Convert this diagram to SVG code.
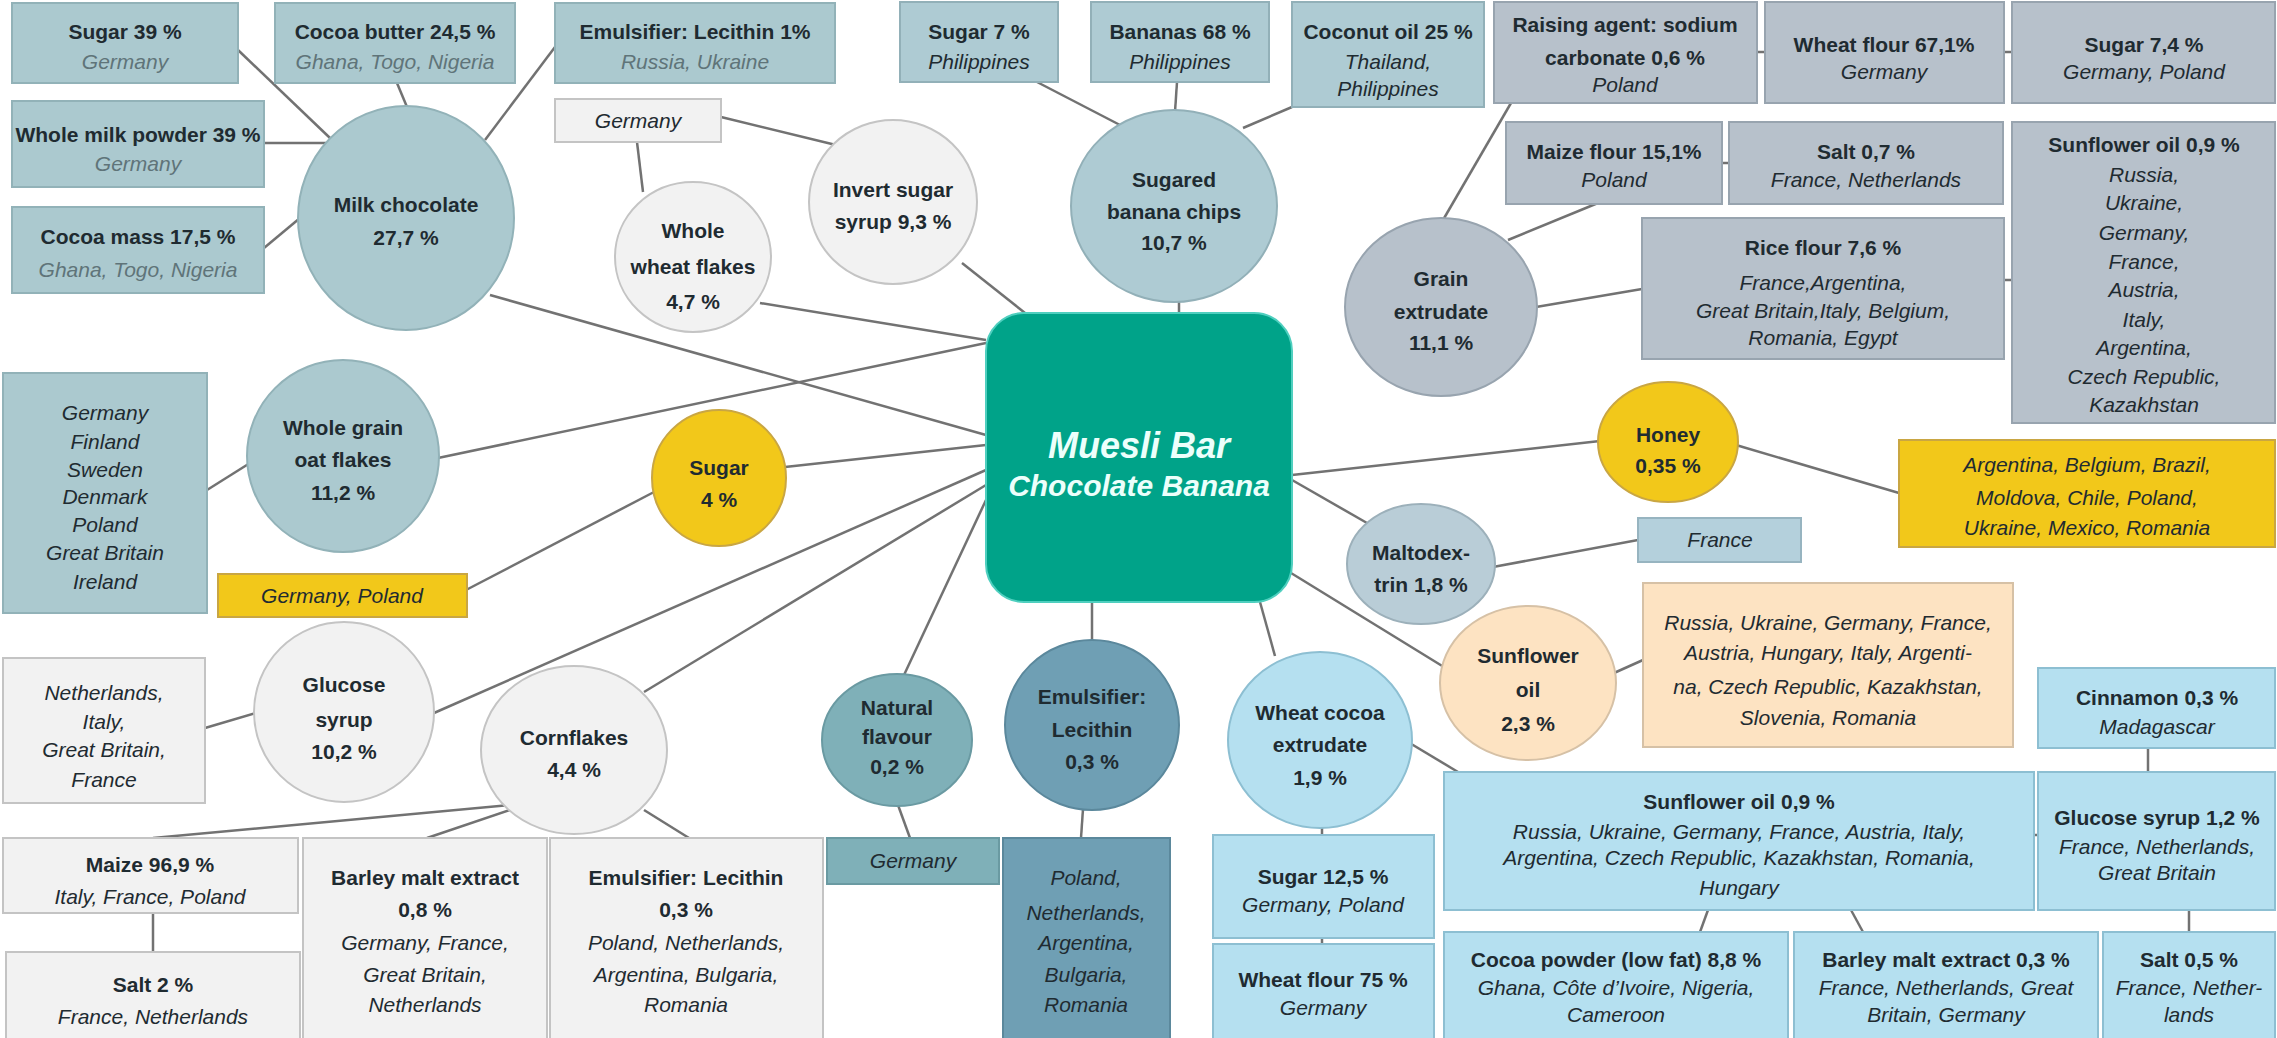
<svg xmlns="http://www.w3.org/2000/svg" width="2277" height="1038" viewBox="0 0 2277 1038">
<style>
.ln{stroke:#727272;stroke-width:2.5;fill:none}
text{font-family:"Liberation Sans",Arial,sans-serif;font-size:21px;text-anchor:middle;fill:#1f2b31}
.b{font-weight:bold}
.i{font-style:italic}
.gi{font-style:italic;fill:#5f7479}
.tg{fill:#abc9cf;stroke:#92b2b8;stroke-width:2}
.bc{fill:#aecbd3;stroke:#92b0b8;stroke-width:2}
.lg{fill:#f2f2f2;stroke:#c4c4c4;stroke-width:2}
.bg{fill:#b7c1cb;stroke:#98a4af;stroke-width:2}
.ye{fill:#f2c81a;stroke:#c9a643;stroke-width:2}
.pe{fill:#fde3c2;stroke:#d6c1a6;stroke-width:2}
.lb{fill:#b5e0f0;stroke:#8dbfd2;stroke-width:2}
.nf{fill:#7fb0b8;stroke:#6a9aa2;stroke-width:2}
.em{fill:#6f9fb4;stroke:#5b889c;stroke-width:2}
.ml{fill:#b9cdd7;stroke:#9cb0ba;stroke-width:2}
.fr{fill:#b4d0dc;stroke:#97b4c0;stroke-width:2}
.ctr{fill:#00a389;stroke:#4fcfbf;stroke-width:2}
.ct{fill:#ecfffb;font-style:italic;font-weight:bold}
</style>

<g id="connectors">
<line class="ln" x1="238" y1="50" x2="330" y2="138"/>
<line class="ln" x1="397" y1="83" x2="407" y2="107"/>
<line class="ln" x1="555" y1="47" x2="485" y2="140"/>
<line class="ln" x1="264" y1="143" x2="326" y2="143"/>
<line class="ln" x1="264" y1="248" x2="300" y2="218"/>
<line class="ln" x1="490" y1="295" x2="986" y2="435"/>
<line class="ln" x1="721" y1="117" x2="836" y2="145"/>
<line class="ln" x1="637" y1="142" x2="643" y2="192"/>
<line class="ln" x1="760" y1="303" x2="986" y2="340"/>
<line class="ln" x1="962" y1="263" x2="1025" y2="313"/>
<line class="ln" x1="1037" y1="82" x2="1120" y2="125"/>
<line class="ln" x1="1177" y1="82" x2="1175" y2="112"/>
<line class="ln" x1="1292" y1="107" x2="1243" y2="128"/>
<line class="ln" x1="1179" y1="300" x2="1179" y2="313"/>
<line class="ln" x1="1511" y1="103" x2="1443" y2="220"/>
<line class="ln" x1="1598" y1="203" x2="1508" y2="240"/>
<line class="ln" x1="1642" y1="289" x2="1536" y2="307"/>
<line class="ln" x1="1757" y1="52" x2="1765" y2="52"/>
<line class="ln" x1="2004" y1="52" x2="2012" y2="52"/>
<line class="ln" x1="1722" y1="163" x2="1729" y2="163"/>
<line class="ln" x1="2004" y1="280" x2="2012" y2="280"/>
<line class="ln" x1="1292" y1="475" x2="1600" y2="441"/>
<line class="ln" x1="1736" y1="445" x2="1899" y2="493"/>
<line class="ln" x1="1292" y1="480" x2="1367" y2="523"/>
<line class="ln" x1="1493" y1="567" x2="1638" y2="540"/>
<line class="ln" x1="1291" y1="573" x2="1452" y2="672"/>
<line class="ln" x1="1614" y1="673" x2="1643" y2="660"/>
<line class="ln" x1="1260" y1="602" x2="1275" y2="656"/>
<line class="ln" x1="1322" y1="826" x2="1322" y2="835"/>
<line class="ln" x1="1322" y1="938" x2="1322" y2="944"/>
<line class="ln" x1="1408" y1="742" x2="1458" y2="772"/>
<line class="ln" x1="1708" y1="910" x2="1700" y2="932"/>
<line class="ln" x1="1851" y1="910" x2="1863" y2="932"/>
<line class="ln" x1="2148" y1="748" x2="2148" y2="772"/>
<line class="ln" x1="2189" y1="910" x2="2189" y2="932"/>
<line class="ln" x1="2034" y1="835" x2="2038" y2="835"/>
<line class="ln" x1="1092" y1="602" x2="1092" y2="641"/>
<line class="ln" x1="1083" y1="809" x2="1081" y2="838"/>
<line class="ln" x1="986" y1="500" x2="904" y2="675"/>
<line class="ln" x1="898" y1="805" x2="910" y2="838"/>
<line class="ln" x1="986" y1="485" x2="644" y2="692"/>
<line class="ln" x1="510" y1="805" x2="153" y2="838"/>
<line class="ln" x1="510" y1="810" x2="427" y2="838"/>
<line class="ln" x1="644" y1="810" x2="689" y2="838"/>
<line class="ln" x1="153" y1="913" x2="153" y2="952"/>
<line class="ln" x1="256" y1="713" x2="205" y2="728"/>
<line class="ln" x1="434" y1="713" x2="986" y2="470"/>
<line class="ln" x1="207" y1="490" x2="250" y2="463"/>
<line class="ln" x1="438" y1="458" x2="986" y2="343"/>
<line class="ln" x1="654" y1="492" x2="466" y2="590"/>
<line class="ln" x1="785" y1="467" x2="986" y2="445"/>
</g>

<g id="milk-chocolate-sugar"><rect class="tg" x="12" y="3" width="226" height="80"/><text class="b" x="125" y="39">Sugar 39 %</text><text class="gi" x="125" y="69">Germany</text></g>
<g id="cocoa-butter"><rect class="tg" x="275" y="3" width="240" height="80"/><text class="b" x="395" y="39">Cocoa butter 24,5 %</text><text class="gi" x="395" y="69">Ghana, Togo, Nigeria</text></g>
<g id="emulsifier-1"><rect class="tg" x="555" y="3" width="280" height="80"/><text class="b" x="695" y="39">Emulsifier: Lecithin 1%</text><text class="gi" x="695" y="69">Russia, Ukraine</text></g>
<g id="whole-milk-powder"><rect class="tg" x="12" y="101" width="252" height="86"/><text class="b" x="138" y="142">Whole milk powder 39 %</text><text class="gi" x="138" y="171">Germany</text></g>
<g id="cocoa-mass"><rect class="tg" x="12" y="207" width="252" height="86"/><text class="b" x="138" y="244">Cocoa mass 17,5 %</text><text class="gi" x="138" y="277">Ghana, Togo, Nigeria</text></g>
<g id="milk-chocolate"><ellipse class="tg" cx="406" cy="218" rx="108" ry="112"/><text class="b" x="406" y="212">Milk chocolate</text><text class="b" x="406" y="245">27,7 %</text></g>

<g id="germany-wheat"><rect class="lg" x="555" y="99" width="166" height="43"/><text class="i" x="638" y="128">Germany</text></g>
<g id="whole-wheat-flakes"><ellipse class="lg" cx="693" cy="257" rx="78" ry="75"/><text class="b" x="693" y="238">Whole</text><text class="b" x="693" y="274">wheat flakes</text><text class="b" x="693" y="309">4,7 %</text></g>
<g id="invert-sugar"><ellipse class="lg" cx="893" cy="202" rx="84" ry="82"/><text class="b" x="893" y="197">Invert sugar</text><text class="b" x="893" y="229">syrup 9,3 %</text></g>

<g id="sugar-7"><rect class="bc" x="900" y="2" width="158" height="80"/><text class="b" x="979" y="39">Sugar 7 %</text><text class="i" x="979" y="69">Philippines</text></g>
<g id="bananas"><rect class="bc" x="1091" y="2" width="178" height="80"/><text class="b" x="1180" y="39">Bananas 68 %</text><text class="i" x="1180" y="69">Philippines</text></g>
<g id="coconut-oil"><rect class="bc" x="1292" y="2" width="192" height="105"/><text class="b" x="1388" y="39">Coconut oil 25 %</text><text class="i" x="1388" y="69">Thailand,</text><text class="i" x="1388" y="96">Philippines</text></g>
<g id="banana-chips"><ellipse class="bc" cx="1174" cy="206" rx="103" ry="96"/><text class="b" x="1174" y="187">Sugared</text><text class="b" x="1174" y="219">banana chips</text><text class="b" x="1174" y="250">10,7 %</text></g>

<g id="raising-agent"><rect class="bg" x="1494" y="2" width="263" height="101"/><text class="b" x="1625" y="32">Raising agent: sodium</text><text class="b" x="1625" y="65">carbonate 0,6 %</text><text class="i" x="1625" y="92">Poland</text></g>
<g id="wheat-flour-67"><rect class="bg" x="1765" y="2" width="239" height="101"/><text class="b" x="1884" y="52">Wheat flour 67,1%</text><text class="i" x="1884" y="79">Germany</text></g>
<g id="sugar-74"><rect class="bg" x="2012" y="2" width="263" height="101"/><text class="b" x="2144" y="52">Sugar 7,4 %</text><text class="i" x="2144" y="79">Germany, Poland</text></g>
<g id="maize-flour"><rect class="bg" x="1506" y="122" width="216" height="82"/><text class="b" x="1614" y="159">Maize flour 15,1%</text><text class="i" x="1614" y="187">Poland</text></g>
<g id="salt-07"><rect class="bg" x="1729" y="122" width="274" height="82"/><text class="b" x="1866" y="159">Salt 0,7 %</text><text class="i" x="1866" y="187">France, Netherlands</text></g>
<g id="rice-flour"><rect class="bg" x="1642" y="218" width="362" height="141"/><text class="b" x="1823" y="255">Rice flour 7,6 %</text><text class="i" x="1823" y="290">France,Argentina,</text><text class="i" x="1823" y="318">Great Britain,Italy, Belgium,</text><text class="i" x="1823" y="345">Romania, Egypt</text></g>
<g id="sunflower-grey"><rect class="bg" x="2012" y="122" width="263" height="301"/><text class="b" x="2144" y="152">Sunflower oil 0,9 %</text><text class="i" x="2144" y="182">Russia,</text><text class="i" x="2144" y="210">Ukraine,</text><text class="i" x="2144" y="240">Germany,</text><text class="i" x="2144" y="269">France,</text><text class="i" x="2144" y="297">Austria,</text><text class="i" x="2144" y="327">Italy,</text><text class="i" x="2144" y="355">Argentina,</text><text class="i" x="2144" y="384">Czech Republic,</text><text class="i" x="2144" y="412">Kazakhstan</text></g>
<g id="grain-extrudate"><ellipse class="bg" cx="1441" cy="307" rx="96" ry="89"/><text class="b" x="1441" y="286">Grain</text><text class="b" x="1441" y="319">extrudate</text><text class="b" x="1441" y="350">11,1 %</text></g>

<g id="honey"><ellipse class="ye" cx="1668" cy="442" rx="70" ry="60"/><text class="b" x="1668" y="442">Honey</text><text class="b" x="1668" y="473">0,35 %</text></g>
<g id="honey-countries"><rect class="ye" x="1899" y="440" width="376" height="107"/><text class="i" x="2087" y="472">Argentina, Belgium, Brazil,</text><text class="i" x="2087" y="505">Moldova, Chile, Poland,</text><text class="i" x="2087" y="535">Ukraine, Mexico, Romania</text></g>

<g id="maltodextrin"><ellipse class="ml" cx="1421" cy="564" rx="74" ry="60"/><text class="b" x="1421" y="560">Maltodex-</text><text class="b" x="1421" y="592">trin 1,8 %</text></g>
<g id="france"><rect class="fr" x="1638" y="518" width="163" height="44"/><text class="i" x="1720" y="547">France</text></g>

<g id="sunflower-oil"><ellipse class="pe" cx="1528" cy="683" rx="88" ry="77"/><text class="b" x="1528" y="663">Sunflower</text><text class="b" x="1528" y="697">oil</text><text class="b" x="1528" y="731">2,3 %</text></g>
<g id="sunflower-countries"><rect class="pe" x="1643" y="583" width="370" height="164"/><text class="i" x="1828" y="630">Russia, Ukraine, Germany, France,</text><text class="i" x="1828" y="660">Austria, Hungary, Italy, Argenti-</text><text class="i" x="1828" y="694">na, Czech Republic, Kazakhstan,</text><text class="i" x="1828" y="725">Slovenia, Romania</text></g>

<g id="wheat-cocoa"><ellipse class="lb" cx="1320" cy="740" rx="92" ry="88"/><text class="b" x="1320" y="720">Wheat cocoa</text><text class="b" x="1320" y="752">extrudate</text><text class="b" x="1320" y="785">1,9 %</text></g>
<g id="sugar-125"><rect class="lb" x="1213" y="835" width="221" height="103"/><text class="b" x="1323" y="884">Sugar 12,5 %</text><text class="i" x="1323" y="912">Germany, Poland</text></g>
<g id="wheat-flour-75"><rect class="lb" x="1213" y="944" width="221" height="96"/><text class="b" x="1323" y="987">Wheat flour 75 %</text><text class="i" x="1323" y="1015">Germany</text></g>
<g id="sunflower-blue"><rect class="lb" x="1444" y="772" width="590" height="138"/><text class="b" x="1739" y="809">Sunflower oil 0,9 %</text><text class="i" x="1739" y="839">Russia, Ukraine, Germany, France, Austria, Italy,</text><text class="i" x="1739" y="865">Argentina, Czech Republic, Kazakhstan, Romania,</text><text class="i" x="1739" y="895">Hungary</text></g>
<g id="cinnamon"><rect class="lb" x="2038" y="668" width="237" height="80"/><text class="b" x="2157" y="705">Cinnamon 0,3 %</text><text class="i" x="2157" y="734">Madagascar</text></g>
<g id="glucose-12"><rect class="lb" x="2038" y="772" width="237" height="138"/><text class="b" x="2157" y="825">Glucose syrup 1,2 %</text><text class="i" x="2157" y="854">France, Netherlands,</text><text class="i" x="2157" y="880">Great Britain</text></g>
<g id="cocoa-powder"><rect class="lb" x="1444" y="932" width="344" height="108"/><text class="b" x="1616" y="967">Cocoa powder (low fat) 8,8 %</text><text class="i" x="1616" y="995">Ghana, Côte d’Ivoire, Nigeria,</text><text class="i" x="1616" y="1022">Cameroon</text></g>
<g id="barley-03"><rect class="lb" x="1794" y="932" width="304" height="108"/><text class="b" x="1946" y="967">Barley malt extract 0,3 %</text><text class="i" x="1946" y="995">France, Netherlands, Great</text><text class="i" x="1946" y="1022">Britain, Germany</text></g>
<g id="salt-05"><rect class="lb" x="2103" y="932" width="172" height="108"/><text class="b" x="2189" y="967">Salt 0,5 %</text><text class="i" x="2189" y="995">France, Nether-</text><text class="i" x="2189" y="1022">lands</text></g>

<g id="emulsifier-03"><ellipse class="em" cx="1092" cy="725" rx="87" ry="85"/><text class="b" x="1092" y="704">Emulsifier:</text><text class="b" x="1092" y="737">Lecithin</text><text class="b" x="1092" y="769">0,3 %</text></g>
<g id="emulsifier-countries"><rect class="em" x="1003" y="838" width="167" height="202"/><text class="i" x="1086" y="885">Poland,</text><text class="i" x="1086" y="920">Netherlands,</text><text class="i" x="1086" y="950">Argentina,</text><text class="i" x="1086" y="982">Bulgaria,</text><text class="i" x="1086" y="1012">Romania</text></g>

<g id="natural-flavour"><ellipse class="nf" cx="897" cy="740" rx="75" ry="66"/><text class="b" x="897" y="715">Natural</text><text class="b" x="897" y="744">flavour</text><text class="b" x="897" y="774">0,2 %</text></g>
<g id="germany-flavour"><rect class="nf" x="827" y="838" width="172" height="46"/><text class="i" x="913" y="868">Germany</text></g>

<g id="cornflakes"><ellipse class="lg" cx="574" cy="750" rx="93" ry="84"/><text class="b" x="574" y="745">Cornflakes</text><text class="b" x="574" y="777">4,4 %</text></g>
<g id="maize"><rect class="lg" x="3" y="838" width="295" height="75"/><text class="b" x="150" y="872">Maize 96,9 %</text><text class="i" x="150" y="904">Italy, France, Poland</text></g>
<g id="salt-2"><rect class="lg" x="6" y="952" width="294" height="88"/><text class="b" x="153" y="992">Salt 2 %</text><text class="i" x="153" y="1024">France, Netherlands</text></g>
<g id="barley-08"><rect class="lg" x="303" y="838" width="244" height="202"/><text class="b" x="425" y="885">Barley malt extract</text><text class="b" x="425" y="917">0,8 %</text><text class="i" x="425" y="950">Germany, France,</text><text class="i" x="425" y="982">Great Britain,</text><text class="i" x="425" y="1012">Netherlands</text></g>
<g id="emulsifier-corn"><rect class="lg" x="550" y="838" width="273" height="202"/><text class="b" x="686" y="885">Emulsifier: Lecithin</text><text class="b" x="686" y="917">0,3 %</text><text class="i" x="686" y="950">Poland, Netherlands,</text><text class="i" x="686" y="982">Argentina, Bulgaria,</text><text class="i" x="686" y="1012">Romania</text></g>

<g id="glucose-syrup"><ellipse class="lg" cx="344" cy="712" rx="90" ry="90"/><text class="b" x="344" y="692">Glucose</text><text class="b" x="344" y="727">syrup</text><text class="b" x="344" y="759">10,2 %</text></g>
<g id="glucose-countries"><rect class="lg" x="3" y="658" width="202" height="145"/><text class="i" x="104" y="700">Netherlands,</text><text class="i" x="104" y="729">Italy,</text><text class="i" x="104" y="757">Great Britain,</text><text class="i" x="104" y="787">France</text></g>

<g id="oat-flakes"><ellipse class="tg" cx="343" cy="456" rx="96" ry="96"/><text class="b" x="343" y="435">Whole grain</text><text class="b" x="343" y="467">oat flakes</text><text class="b" x="343" y="500">11,2 %</text></g>
<g id="oat-countries"><rect class="tg" x="3" y="373" width="204" height="240"/><text class="i" x="105" y="420">Germany</text><text class="i" x="105" y="449">Finland</text><text class="i" x="105" y="477">Sweden</text><text class="i" x="105" y="504">Denmark</text><text class="i" x="105" y="532">Poland</text><text class="i" x="105" y="560">Great Britain</text><text class="i" x="105" y="589">Ireland</text></g>

<g id="sugar-4"><ellipse class="ye" cx="719" cy="478" rx="67" ry="68"/><text class="b" x="719" y="475">Sugar</text><text class="b" x="719" y="507">4 %</text></g>
<g id="sugar-4-countries"><rect class="ye" x="218" y="574" width="249" height="43"/><text class="i" x="342" y="603">Germany, Poland</text></g>

<g id="muesli-bar"><rect class="ctr" x="986" y="313" width="306" height="289" rx="38"/><text class="ct" x="1139" y="458" style="font-size:36px">Muesli Bar</text><text class="ct" x="1139" y="496" style="font-size:30px;font-weight:600">Chocolate Banana</text></g>
</svg>
